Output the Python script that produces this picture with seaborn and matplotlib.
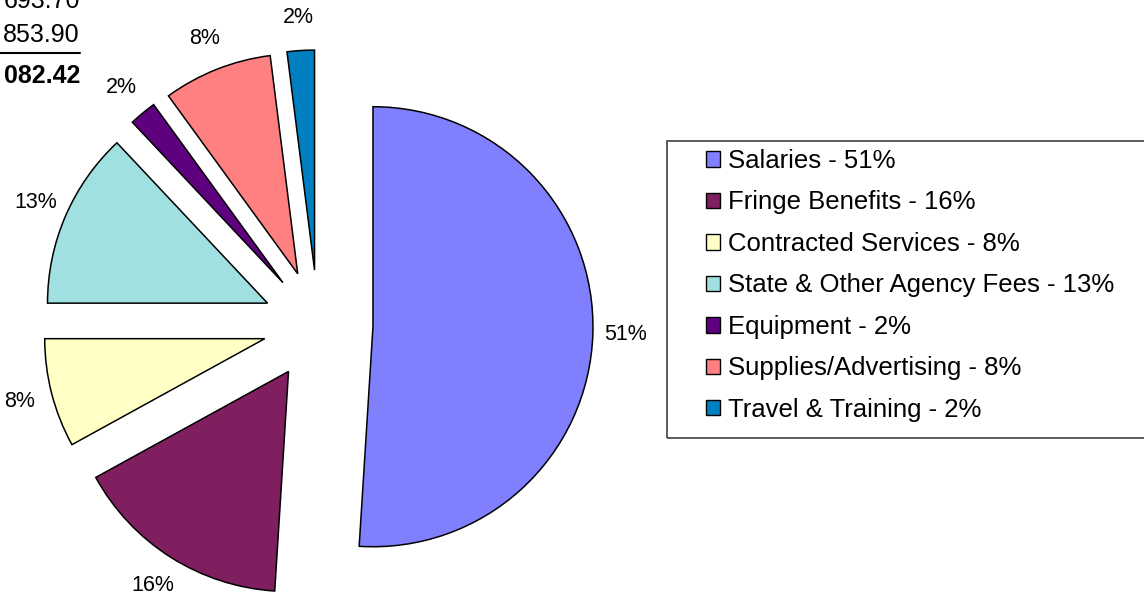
import matplotlib
matplotlib.use("Agg")
import matplotlib.pyplot as plt
import seaborn as sns
from matplotlib.patches import Patch, Rectangle
from matplotlib.lines import Line2D

# plain white look, no grid - it's a pie anyway
sns.set_theme(style="white")
plt.rcParams['font.family'] = ['Liberation Sans', 'DejaVu Sans']
plt.rcParams['text.color'] = 'black'

# --- budget split (percent of total) ---
categories = ["Salaries", "Fringe Benefits", "Contracted Services",
              "State & Other Agency Fees", "Equipment",
              "Supplies/Advertising", "Travel & Training"]
shares = [51, 16, 8, 13, 2, 8, 2]
slice_colors = ["#8080FF", "#7F1F5F", "#FFFFC6", "#A0E0E0",
                "#5F007F", "#FF8080", "#0080C0"]

# leftover numbers from the table that sits above the chart (cut off)
table_numbers = ["693.70", "853.90"]
table_total = "082.42"

W, H = 1144, 599
fig = plt.figure(figsize=(W / 100, H / 100), dpi=100)

# pie lives in the left part; one data unit = 220 px
R_PX, CX, CY, PIE_W = 220, 318, 325, 660
ax = fig.add_axes([0, 0, PIE_W / W, 1])
ax.pie(shares, colors=slice_colors, explode=[0.25] * len(shares),
       startangle=90, counterclock=False,
       autopct='%1.0f%%', pctdistance=1.15,
       wedgeprops=dict(edgecolor='black', linewidth=1.1),
       textprops=dict(fontsize=15.5, color='black'))
ax.set_aspect('auto')
ax.set_xlim(-CX / R_PX, (PIE_W - CX) / R_PX)
ax.set_ylim(-(H - CY) / R_PX, CY / R_PX)
ax.axis('off')

# --- legend with a box that runs off the right edge ---
fig.add_artist(Rectangle((667 / W, 1 - 438 / H), (1160 - 667) / W, (438 - 141) / H,
                         transform=fig.transFigure, fill=False,
                         edgecolor='#404040', linewidth=1.2))
handles = [Patch(facecolor=c, edgecolor='black', linewidth=1.0) for c in slice_colors]
legend_labels = [f"{name} - {pct}%" for name, pct in zip(categories, shares)]
leg = fig.legend(handles, legend_labels, loc='upper left',
                 bbox_to_anchor=(706 / W, 1 - 149 / H), frameon=False,
                 fontsize=18.5, handlelength=0.55, handleheight=0.55,
                 handletextpad=0.3, labelspacing=0.68,
                 borderpad=0, borderaxespad=0)
for t in leg.get_texts():
    t.set_color('black')

# --- clipped table figures in the top-left corner ---
fig.text(80 / W, 1 - 8 / H, table_numbers[0], ha='right', va='baseline', fontsize=18)
fig.text(80 / W, 1 - 42 / H, table_numbers[1], ha='right', va='baseline', fontsize=18)
fig.add_artist(Line2D([0, 80 / W], [1 - 53 / H] * 2, color='black', linewidth=1.5))
fig.text(80 / W, 1 - 83 / H, table_total, ha='right', va='baseline',
         fontsize=18, fontweight='bold')

fig.savefig('out.png', dpi=100)
